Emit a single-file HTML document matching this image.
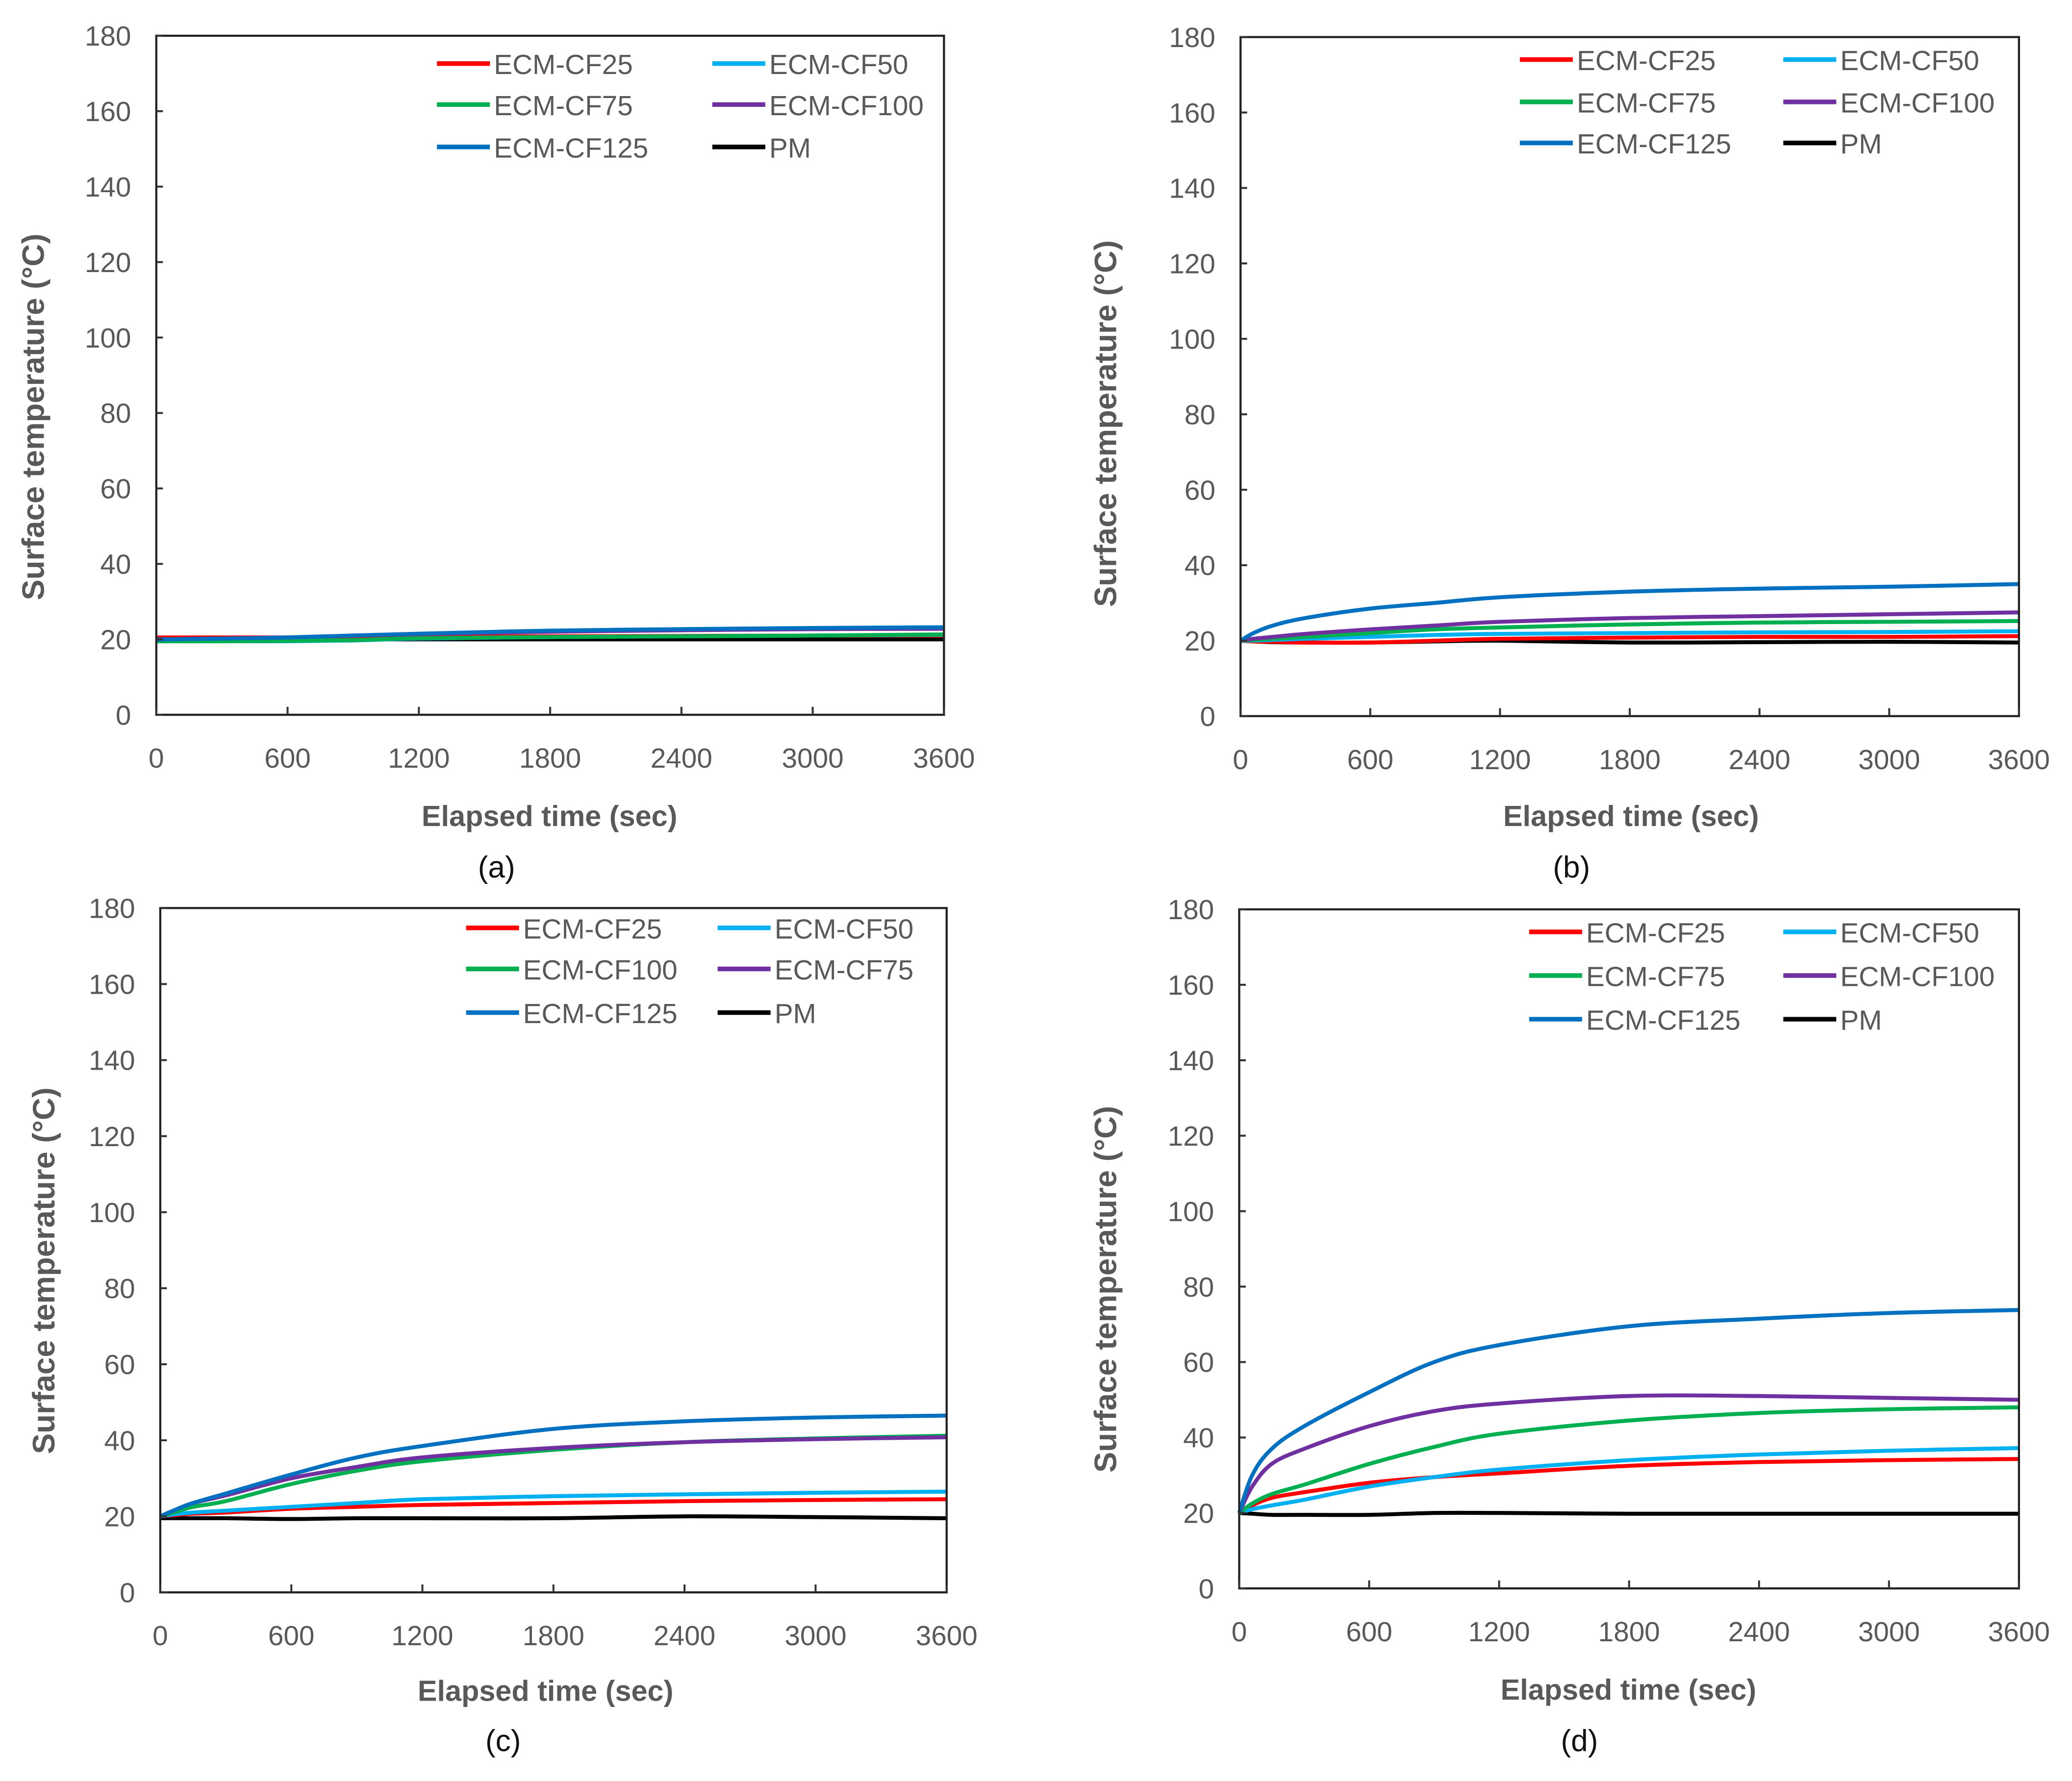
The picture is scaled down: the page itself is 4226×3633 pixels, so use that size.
<!DOCTYPE html>
<html><head><meta charset="utf-8"><style>
html,body{margin:0;padding:0;background:#fff;}
svg{display:block;}
text{font-family:"Liberation Sans",sans-serif;fill:#595959;}
</style></head><body>
<svg id="fig" xmlns="http://www.w3.org/2000/svg" width="4226" height="3633" viewBox="0 0 1565 1345.5"></svg>
<script>
const times=[0,60,150,300,600,900,1200,1800,2400,3000,3600];
const yTicks=[0,20,40,60,80,100,120,140,160,180];
const xTicks=[0,600,1200,1800,2400,3000,3600];
const colors={CF25:"#ff0000",CF50:"#00b0f0",CF75:"#00b050",CF100:"#7030a0",CF125:"#0070c0",PM:"#000000"};
// panel a
const aCF25=[20.5,20.5,20.5,20.5,20.5,20.6,20.7,20.8,20.9,21,21];
const aCF50=[19.5,19.5,19.5,19.5,19.5,19.7,20.2,20.6,20.8,21,21.2];
const aCF75=[19.5,19.5,19.5,19.5,19.6,19.8,20.3,20.6,20.8,21,21.3];
const aCF100=[20,20,20.1,20.2,20.5,21,21.4,22,22.4,22.7,22.8];
const aCF125=[20,20,20.1,20.2,20.5,21,21.5,22.3,22.7,23,23.2];
const aPM=[20,20,20,20,20,20,20,20,20,20,20];
// panel b
const bCF25=[20,19.8,19.7,19.5,19.5,20,20.5,20.8,21,21,21.2];
const bCF50=[20,20,20.2,20.5,21,21.5,21.8,22,22.2,22.3,22.5];
const bCF75=[20,20.2,20.5,21,22,23,23.5,24.3,24.8,25,25.2];
const bCF100=[20,20.5,21,21.8,23,24,25,26,26.5,27,27.5];
const bCF125=[20,22,24,26,28.5,30,31.5,33,33.8,34.3,35];
const bPM=[20,19.8,19.6,19.5,19.5,19.8,20,19.5,19.6,19.7,19.5];
// panel c
const cCF25=[20,20.3,20.7,21,22,22.5,23,23.5,24,24.3,24.5];
const cCF50=[20,20.5,21,21.5,22.5,23.5,24.5,25.3,25.8,26.2,26.5];
const cCF100=[20,21,22.5,24,28.5,32,34.5,37.5,39.5,40.5,41.2];
const cCF75=[20,21.5,23.5,25.5,30,33,35.5,38,39.5,40.3,40.8];
const cCF125=[20,21.5,23.5,26,31,35.5,38.5,43,45,46,46.5];
const cPM=[19.5,19.5,19.5,19.5,19.3,19.5,19.5,19.5,20,19.8,19.5];
// panel d
const dCF25=[20,22,24,25.5,28,29.5,30.5,32.5,33.5,34,34.3];
const dCF50=[20,21,22,23.5,27,29.5,31.5,34,35.5,36.5,37.2];
const dCF75=[20,22.5,25,27.5,33,37.5,41,44.5,46.5,47.5,48];
const dCF100=[20,27,33,37,43,47,49,51,51,50.5,50];
const dCF125=[20,30,37,43,52,60,64.5,69.5,71.5,73,73.8];
const dPM=[20,19.8,19.5,19.5,19.5,20,20,19.8,19.8,19.8,19.8];

const NS="http://www.w3.org/2000/svg";
const svg=document.getElementById('fig');
function el(tag,attrs,parent,txt){const e=document.createElementNS(NS,tag);for(const k in attrs)e.setAttribute(k,attrs[k]);if(txt!==undefined)e.textContent=txt;(parent||svg).appendChild(e);return e;}
function smoothPath(pts){
  let d='M'+pts[0][0].toFixed(2)+' '+pts[0][1].toFixed(2);
  for(let i=0;i<pts.length-1;i++){
    const p0=pts[Math.max(0,i-1)],p1=pts[i],p2=pts[i+1],p3=pts[Math.min(pts.length-1,i+2)];
    const c1x=p1[0]+(p2[0]-p0[0])/6,c1y=p1[1]+(p2[1]-p0[1])/6;
    const c2x=p2[0]-(p3[0]-p1[0])/6,c2y=p2[1]-(p3[1]-p1[1])/6;
    d+=' C'+c1x.toFixed(2)+' '+c1y.toFixed(2)+' '+c2x.toFixed(2)+' '+c2y.toFixed(2)+' '+p2[0].toFixed(2)+' '+p2[1].toFixed(2);
  }
  return d;
}

const panels=[
 {id:"a",L:118,R:713,T:27,B:540,xl:415,xlY:617,capX:375,capY:655,ylX:25,ylC:315,
  leg:{c1:330,c2:538,rows:[52,83,115]},
  items:[["ECM-CF25","CF25",aCF25],["ECM-CF50","CF50",aCF50],["ECM-CF75","CF75",aCF75],["ECM-CF100","CF100",aCF100],["ECM-CF125","CF125",aCF125],["PM","PM",aPM]]},
 {id:"b",L:937,R:1525,T:28,B:541,xl:1232,xlY:617,capX:1187,capY:655,ylX:835,ylC:320,
  leg:{c1:1148,c2:1347,rows:[49,81,112]},
  items:[["ECM-CF25","CF25",bCF25],["ECM-CF50","CF50",bCF50],["ECM-CF75","CF75",bCF75],["ECM-CF100","CF100",bCF100],["ECM-CF125","CF125",bCF125],["PM","PM",bPM]]},
 {id:"c",L:121,R:715,T:686,B:1203,xl:412,xlY:1278,capX:380,capY:1315,ylX:33,ylC:960,
  leg:{c1:352,c2:542,rows:[705,736,769]},
  items:[["ECM-CF25","CF25",cCF25],["ECM-CF50","CF50",cCF50],["ECM-CF100","CF75",cCF100],["ECM-CF75","CF100",cCF75],["ECM-CF125","CF125",cCF125],["PM","PM",cPM]]},
 {id:"d",L:936,R:1525,T:687,B:1200,xl:1230,xlY:1277,capX:1193,capY:1315,ylX:835,ylC:974,
  leg:{c1:1155,c2:1347,rows:[708,741,774]},
  items:[["ECM-CF25","CF25",dCF25],["ECM-CF50","CF50",dCF50],["ECM-CF75","CF75",dCF75],["ECM-CF100","CF100",dCF100],["ECM-CF125","CF125",dCF125],["PM","PM",dPM]]}
];

panels.forEach(p=>{
  const g=el('g',{});
  
  
  const xs=t=>p.L+(p.R-p.L)*t/3600;
  const ys=v=>p.B-(p.B-p.T)*v/180;
  const order=[5,0,1,2,3,4];
  order.forEach(i=>{
    const it=p.items[i];
    const pts=it[2].map((v,k)=>[xs(times[k]),ys(v)]);
    const path=el('path',{d:smoothPath(pts),fill:'none',stroke:colors[it[1]],'stroke-width':3,'stroke-linejoin':'round'},g);
    
    
  });
  const fr=el('rect',{x:p.L,y:p.T,width:p.R-p.L,height:p.B-p.T,fill:'none',stroke:'#222','stroke-width':1.6},g);
  
  
  yTicks.forEach(v=>{
    el('line',{x1:p.L,x2:p.L+5,y1:ys(v),y2:ys(v),stroke:'#333','stroke-width':1.5},g);
    const t=el('text',{x:p.L-19,y:ys(v)+7.5,'text-anchor':'end','font-size':21},g,String(v));
    
    
  });
  xTicks.forEach(v=>{
    el('line',{x1:xs(v),x2:xs(v),y1:p.B,y2:p.B-6,stroke:'#333','stroke-width':1.5},g);
    const t=el('text',{x:xs(v),y:p.B+40,'text-anchor':'middle','font-size':21},g,String(v));
    
    
  });
  const xt=el('text',{x:p.xl,y:p.xlY+7,'text-anchor':'middle','font-size':22,'font-weight':'bold'},g,'Elapsed time (sec)');
  
  
  const yc=p.ylC;
  const yt=el('text',{x:p.ylX+8,y:yc,'text-anchor':'middle','font-size':23.5,'font-weight':'bold',transform:'rotate(-90 '+(p.ylX+8)+' '+yc+')'},g,'Surface temperature (°C)');
  
  
  const cap=el('text',{x:p.capX,y:p.capY+8,'text-anchor':'middle','font-size':23,style:'fill:#111'},g,'('+p.id+')');
  
  
  p.items.forEach((it,i)=>{
    const cx=i%2===0?p.leg.c1:p.leg.c2;
    const cy=p.leg.rows[Math.floor(i/2)];
    const lg=el('g',{},g);
    
    
    el('line',{x1:cx,x2:cx+40,y1:cy-4,y2:cy-4,stroke:colors[it[1]],'stroke-width':3.5},lg);
    el('text',{x:cx+43,y:cy+4,'font-size':21},lg,it[0]);
  });
});
</script>
</body></html>
